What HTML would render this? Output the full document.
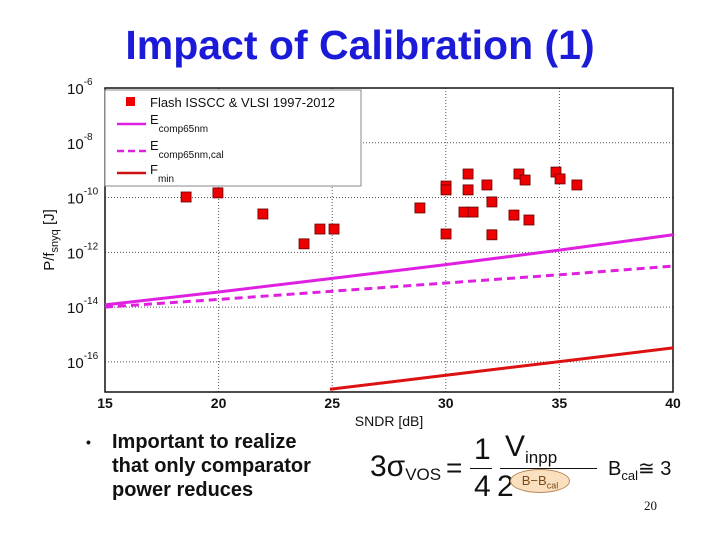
<!DOCTYPE html>
<html><head><meta charset="utf-8"><style>
body{margin:0;width:720px;height:540px;background:#fff;overflow:hidden;font-family:"Liberation Sans",sans-serif;position:relative}
.abs{position:absolute}
</style></head><body>
<div class="abs" style="left:0;width:720px;top:22px;text-align:center;font-size:41px;font-weight:bold;color:#1a1ad8">Impact of Calibration (1)</div>
<svg class="abs" style="left:0;top:0" width="720" height="540" id="chart"></svg>
<div class="abs" style="left:86px;top:430px;font-size:20px;font-weight:bold;line-height:24px;color:#111">
<span style="position:absolute;left:0;font-size:14px">•</span>
<div style="margin-left:26px">Important to realize<br>that only comparator<br>power reduces</div></div>
<div class="abs" style="left:370px;top:430px;width:240px;height:80px;color:#111">
<span class="abs" style="left:0;top:20px;font-size:30px">3σ<sub style="font-size:17px;vertical-align:-4px">VOS</sub></span>
<span class="abs" style="left:76px;top:22px;font-size:28px">=</span>
<span class="abs" style="left:104px;top:3px;font-size:30px">1</span>
<div class="abs" style="left:100px;top:38px;width:22px;border-top:1.5px solid #111"></div>
<span class="abs" style="left:104px;top:40px;font-size:30px">4</span>
<span class="abs" style="left:135px;top:0px;font-size:30px">V<sub style="font-size:17px">inpp</sub></span>
<div class="abs" style="left:130px;top:38px;width:97px;border-top:1.5px solid #111"></div>
<span class="abs" style="left:127px;top:40px;font-size:30px">2</span>
<div class="abs" style="left:140px;top:39px;width:58px;height:22px;border-radius:50%;background:#fbe0c0;border:1px solid #b98a5a;font-size:13px;line-height:22px;text-align:center;color:#7a4a1a">B−B<sub style="font-size:9px">cal</sub></div>
</div>
<div class="abs" style="left:608px;top:456px;font-size:20px;color:#111">B<sub style="font-size:13px">cal</sub>≅ 3</div>
<div class="abs" style="left:644px;top:498px;font-size:13px;color:#111;font-family:'Liberation Serif',serif">20</div>
<script>
const xTicks=[15,20,25,30,35,40];
const yTicks=[-6,-8,-10,-12,-14,-16];
const ptsX=[18.57,19.97,21.95,23.76,24.46,25.08,28.86,30.01,30.01,30.01,30.98,30.98,30.80,31.20,31.81,32.03,32.03,33.00,33.22,33.49,33.66,34.85,35.03,35.77];
const ptsY=[-9.98,-9.83,-10.60,-11.69,-11.15,-11.15,-10.38,-9.58,-9.72,-11.33,-9.14,-9.72,-10.53,-10.53,-9.54,-10.16,-11.36,-10.64,-9.14,-9.36,-10.82,-9.07,-9.32,-9.54];
const lineX=[15,20,25,30,35,40];
const ecomp=[-13.92,-13.45,-12.95,-12.45,-11.92,-11.36];
const ecompCal=[-14.0,-13.72,-13.42,-13.12,-12.82,-12.5];
const fminX=[24.9,30,35,40];
const fmin=[-17.0,-16.49,-15.99,-15.49];
const svg=document.getElementById('chart');const NS='http://www.w3.org/2000/svg';
const L=105,R=673,T=88,B=392,YMAX=-6,YMIN=-17.1;
const sx=v=>L+(v-15)/25*(R-L);const sy=v=>T+(YMAX-v)/(YMAX-YMIN)*(B-T);
function el(t,a,p){const e=document.createElementNS(NS,t);for(const k in a)e.setAttribute(k,a[k]);(p||svg).appendChild(e);return e;}
xTicks.forEach(v=>{if(v>15&&v<40){const g=el('line',{x1:sx(v),x2:sx(v),y1:T,y2:B,stroke:'#555','stroke-dasharray':'1,2'});

}
const t=el('text',{x:sx(v),y:B+16,'text-anchor':'middle','font-size':14,'font-weight':'bold',fill:'#111'});t.textContent=v;

});
yTicks.forEach(v=>{if(v!==YMAX){const g=el('line',{x1:L,x2:R,y1:sy(v),y2:sy(v),stroke:'#555','stroke-dasharray':'1,2'});

}
const t=el('text',{x:67,y:sy(v)+6,'font-size':15,fill:'#111'});t.innerHTML='10<tspan dy="-9" font-size="10">'+v+'</tspan>';

});
const fr=el('rect',{x:L,y:T,width:R-L,height:B-T,fill:'none',stroke:'#111','stroke-width':1.5});


function pl(xs,ys,col,dash,name){const p=el('polyline',{points:xs.map((x,i)=>sx(x)+','+sy(ys[i])).join(' '),fill:'none',stroke:col,'stroke-width':3,'stroke-dasharray':dash||'none'});

}
pl(lineX,ecomp,'#e020e0',null,'ecomp65nm-line');
pl(lineX,ecompCal,'#e020e0','8,5','ecomp65nm-cal-line');
pl(fminX,fmin,'#dd1111',null,'fmin-line');
ptsX.forEach((x,i)=>{const r=el('rect',{x:sx(x)-5,y:sy(ptsY[i])-5,width:10,height:10,fill:'#ee0000',stroke:'#600','stroke-width':0.8});

});
const lg=el('g',{});
el('rect',{x:L,y:T+2,width:256,height:96,fill:'#fff',stroke:'#888'},lg);
el('rect',{x:126,y:97,width:9,height:9,fill:'#ee0000'},lg);
const t1=el('text',{x:150,y:107,'font-size':13,fill:'#111'},lg);t1.textContent='Flash ISSCC & VLSI 1997-2012';
el('line',{x1:117,x2:146,y1:124,y2:124,stroke:'#e020e0','stroke-width':2.5},lg);
el('line',{x1:117,x2:146,y1:151,y2:151,stroke:'#e020e0','stroke-width':2.5,'stroke-dasharray':'7,4'},lg);
el('line',{x1:117,x2:146,y1:173,y2:173,stroke:'#cc1111','stroke-width':2.5},lg);
[['E','comp65nm',126],['E','comp65nm,cal',152],['F','min',176]].forEach(a=>{const t=el('text',{x:150,y:a[2]-2,'font-size':13,fill:'#111'},lg);t.innerHTML=a[0]+'<tspan dy="8" font-size="10">'+a[1]+'</tspan>';});
const xl=el('text',{x:389,y:426,'text-anchor':'middle','font-size':14,fill:'#111'});xl.textContent='SNDR [dB]';


const yl=el('text',{x:0,y:0,'text-anchor':'middle','font-size':15,fill:'#111',transform:'translate(54,240) rotate(-90)'});yl.innerHTML='P/f<tspan dy="4" font-size="11">snyq</tspan><tspan dy="-4"> [J]</tspan>';


</script>
</body></html>
